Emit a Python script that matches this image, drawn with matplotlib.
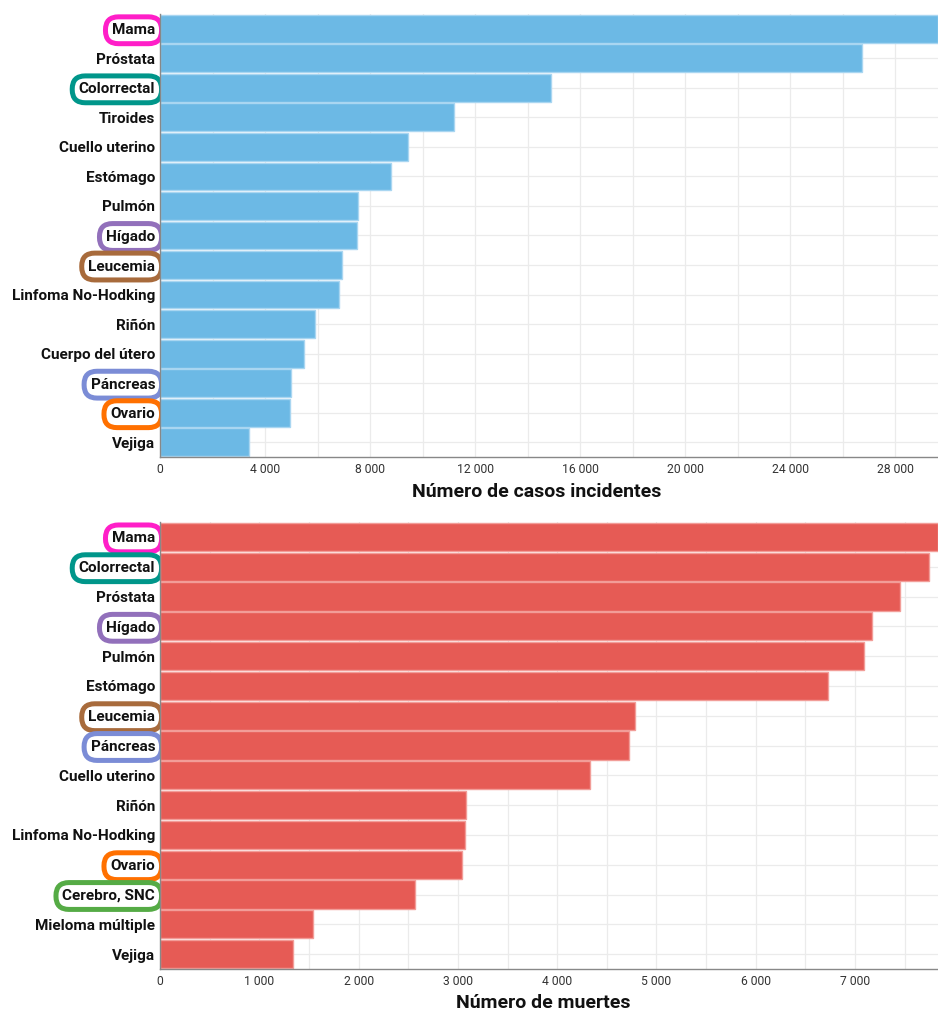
import matplotlib
matplotlib.use("Agg")
import matplotlib.pyplot as plt
from matplotlib.ticker import MultipleLocator, FuncFormatter

plt.rcParams['font.family'] = ['Roboto', 'DejaVu Sans']

inc_labels = ["Mama", "Próstata", "Colorrectal", "Tiroides", "Cuello uterino", "Estómago",
              "Pulmón", "Hígado", "Leucemia", "Linfoma No-Hodking", "Riñón",
              "Cuerpo del útero", "Páncreas", "Ovario", "Vejiga"]
inc_values = [29620, 26730, 14880, 11190, 9440, 8790, 7540, 7500, 6930, 6810, 5910,
              5490, 4975, 4950, 3400]

mort_labels = ["Mama", "Colorrectal", "Próstata", "Hígado", "Pulmón", "Estómago", "Leucemia",
               "Páncreas", "Cuello uterino", "Riñón", "Linfoma No-Hodking", "Ovario",
               "Cerebro, SNC", "Mieloma múltiple", "Vejiga"]
mort_values = [7835, 7745, 7450, 7167, 7093, 6730, 4783, 4720, 4333, 3085, 3075, 3041,
               2571, 1544, 1342]

highlight = {
    "Mama": "#ff1ec8",
    "Colorrectal": "#00968a",
    "Hígado": "#9270bb",
    "Leucemia": "#a86b3c",
    "Páncreas": "#7b8cd6",
    "Ovario": "#ff7000",
    "Cerebro, SNC": "#55ab45",
}

W, H = 938, 1013
fig = plt.figure(figsize=(W / 100, H / 100), dpi=100)


def axes_px(l, t, r, b):
    return fig.add_axes([l / W, 1 - b / H, (r - l) / W, (b - t) / H])


def fmt(v, pos):
    return f"{int(round(v)):,}".replace(",", " ")


def draw(ax, labels, values, color, edge, major, minor, xlabel, lab_x, lab_y):
    n = len(labels)
    ax.barh(range(n), values, height=0.94, color=color, edgecolor=edge, linewidth=1.0, zorder=2)
    ax.set_ylim(n - 0.5, -0.5)
    ax.set_xlim(0, max(values))
    ax.set_yticks(range(n))
    ax.set_yticklabels(labels, fontweight='bold', fontsize=11, color='#111111')
    ax.xaxis.set_major_locator(MultipleLocator(major))
    ax.xaxis.set_minor_locator(MultipleLocator(minor))
    ax.xaxis.set_major_formatter(FuncFormatter(fmt))
    ax.tick_params(axis='x', which='both', length=0, pad=4.5, labelsize=8.7, labelcolor='#333333')
    ax.tick_params(axis='y', length=0, pad=3.5)
    ax.set_axisbelow(True)
    ax.grid(True, which='both', axis='x', color='#ebebeb', linewidth=0.9)
    ax.grid(True, which='major', axis='y', color='#ebebeb', linewidth=0.9)
    for s in ['top', 'right']:
        ax.spines[s].set_visible(False)
    for s in ['left', 'bottom']:
        ax.spines[s].set_color('#888888')
        ax.spines[s].set_linewidth(1.0)
        ax.spines[s].set_zorder(3)
    for lab in ax.get_yticklabels():
        c = highlight.get(lab.get_text())
        if c:
            lab.set_bbox(dict(boxstyle='round,pad=0.42,rounding_size=0.85', fc='white',
                              ec=c, lw=3.6))
    ax.set_xlabel(xlabel, fontsize=14, fontweight='bold', color='#111111')
    ax.xaxis.set_label_coords(lab_x, lab_y)


ax1 = axes_px(160, 14, 938, 457)
draw(ax1, inc_labels, inc_values, '#6cb9e5', '#a9d6f1', 4000, 2000,
     "Número de casos incidentes", (537 - 160) / 778, (457 - 483) / 443)

ax2 = axes_px(160, 522, 938, 969)
draw(ax2, mort_labels, mort_values, '#e65b55', '#f29d98', 1000, 500,
     "Número de muertes", (543 - 160) / 778, (969 - 994) / 447)

fig.savefig("out.png", dpi=100)
